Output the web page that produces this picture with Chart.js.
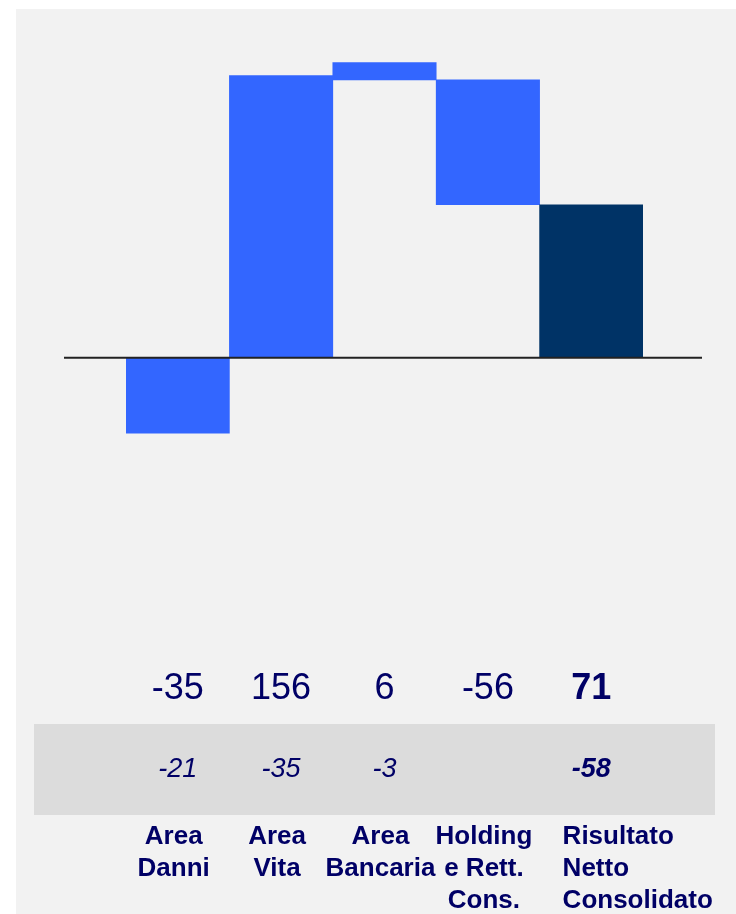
<!DOCTYPE html>
<html>
<head>
<meta charset="utf-8">
<script src="https://cdn.jsdelivr.net/npm/chart.js@4.4.1/dist/chart.umd.min.js"></script>
<style>
  html, body { margin: 0; padding: 0; background: #ffffff; }
  #bg { position: absolute; left: 16px; top: 9px; width: 720px; height: 905px; background: #f2f2f2; }
  #chart { position: absolute; left: 0; top: 0; }
</style>
</head>
<body>
<div id="bg"></div>
<canvas id="chart" width="736" height="914"></canvas>
<script>
// categories (multi-line labels)
const categories = [
  ['Area', 'Danni'],
  ['Area', 'Vita'],
  ['Area', 'Bancaria'],
  ['Holding', 'e Rett.', 'Cons.'],
  ['Risultato', 'Netto', 'Consolidato'],
];
// floating bar ranges as drawn (waterfall)
const barLow = [-35, 0, 129, 71, 0];
const barHigh = [0, 131, 137, 129, 71];
// value rows printed under the chart
const currentValues = ['-35', '156', '6', '-56', '71'];
const previousValues = ['-21', '-35', '-3', '', '-58'];
const yMin = -150;
const yMax = 160;

const BLUE = '#3366ff';
const NAVY_BAR = '#003366';
const TEXT = '#000066';
const FONT = '"Liberation Sans", Arial, Helvetica, sans-serif';

const tablePlugin = {
  id: 'tablePlugin',
  beforeDatasetsDraw(chart) {
    const ctx = chart.ctx;
    ctx.save();
    ctx.fillStyle = '#dcdcdc';
    ctx.fillRect(34, 724, 681, 91);
    ctx.restore();
  },
  afterDatasetsDraw(chart) {
    const { ctx, chartArea, scales } = chart;
    const y0 = scales.y.getPixelForValue(0);
    ctx.save();
    ctx.strokeStyle = '#222222';
    ctx.lineWidth = 2;
    ctx.beginPath();
    ctx.moveTo(chartArea.left - 62, y0);
    ctx.lineTo(chartArea.right + 59, y0);
    ctx.stroke();
    ctx.restore();
  },
  afterDraw(chart) {
    const { ctx, scales } = chart;
    const last = categories.length - 1;
    const step = scales.x.getPixelForValue(1) - scales.x.getPixelForValue(0);
    ctx.save();
    ctx.fillStyle = TEXT;
    ctx.textBaseline = 'alphabetic';

    currentValues.forEach((v, i) => {
      const x = scales.x.getPixelForValue(i);
      ctx.textAlign = 'center';
      ctx.font = (i === last ? 'bold ' : '') + '36px ' + FONT;
      ctx.fillText(v, x, 699);
    });

    previousValues.forEach((v, i) => {
      if (!v) return;
      const x = scales.x.getPixelForValue(i);
      ctx.textAlign = 'center';
      ctx.font = 'italic ' + (i === last ? 'bold ' : '') + '27px ' + FONT;
      ctx.fillText(v, x, 777);
    });

    ctx.font = 'bold 26px ' + FONT;
    categories.forEach((lines, i) => {
      const cx = scales.x.getPixelForValue(i);
      lines.forEach((line, j) => {
        const y = 844 + j * 32;
        if (i === last) {
          ctx.textAlign = 'left';
          ctx.fillText(line, cx - step / 2 + 23, y);
        } else {
          ctx.textAlign = 'center';
          ctx.fillText(line, cx - 4, y);
        }
      });
    });
    ctx.restore();
  },
};

new Chart(document.getElementById('chart'), {
  type: 'bar',
  data: {
    labels: categories,
    datasets: [{
      data: barLow.map((lo, i) => [lo, barHigh[i]]),
      backgroundColor: barLow.map((_, i) => (i === barLow.length - 1 ? NAVY_BAR : BLUE)),
      borderWidth: 0,
      categoryPercentage: 1,
      barPercentage: 1,
    }],
  },
  options: {
    responsive: false,
    animation: false,
    layout: { padding: { left: 126, right: 93, top: 13, bottom: 233 } },
    plugins: { legend: { display: false }, tooltip: { enabled: false } },
    scales: {
      x: { display: false },
      y: { display: false, min: yMin, max: yMax },
    },
  },
  plugins: [tablePlugin],
});
</script>
</body>
</html>
